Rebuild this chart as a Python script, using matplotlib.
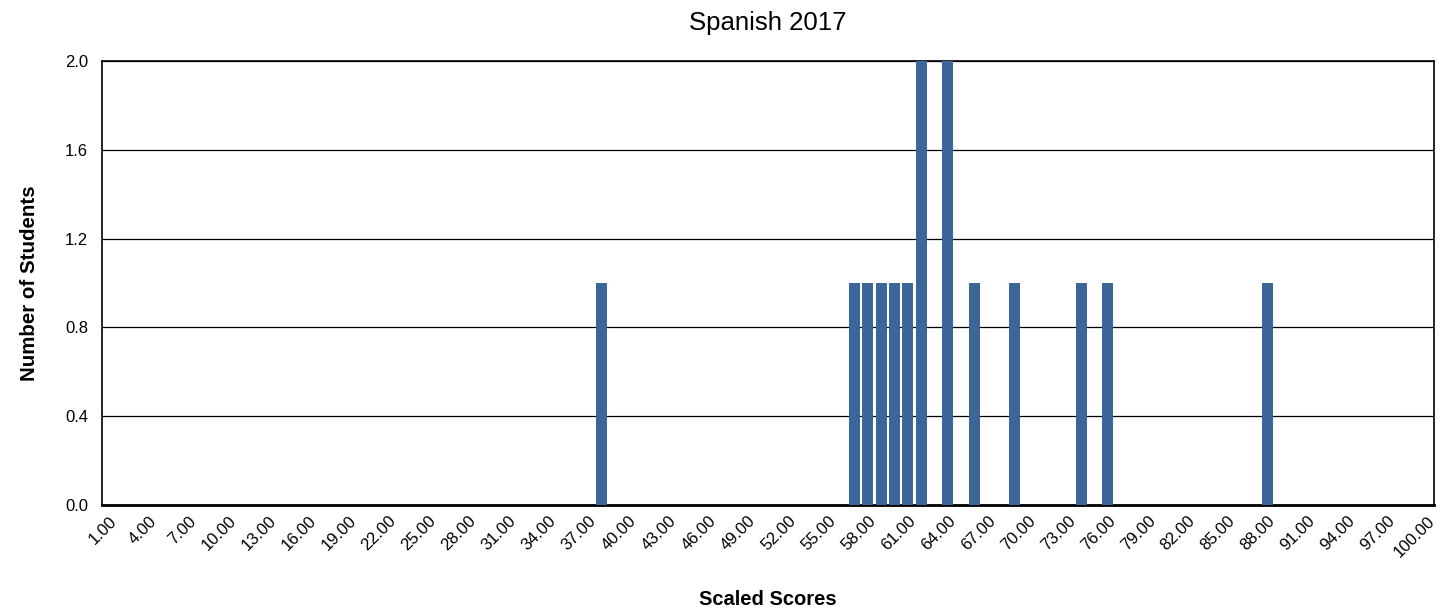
import matplotlib
matplotlib.use("Agg")
import matplotlib.pyplot as plt
import numpy as np

plt.rcParams['font.family'] = ['Liberation Sans', 'DejaVu Sans']

# scaled score categories 1..100 and student counts
scores = list(range(1, 101))
bar_scores = [38, 57, 58, 59, 60, 61, 62, 64, 66, 69, 74, 76, 88]
bar_counts = [1, 1, 1, 1, 1, 1, 2, 2, 1, 1, 1, 1, 1]

counts = [0] * len(scores)
for s, c in zip(bar_scores, bar_counts):
    counts[scores.index(s)] = c

tick_labels = ['%.2f' % s for s in scores]
yticks = [0.0, 0.4, 0.8, 1.2, 1.6, 2.0]

fig = plt.figure(figsize=(14.55, 6.11), dpi=100)
ax = fig.add_axes([0.0701, 0.1735, 0.9155, 0.7267])

x = np.arange(len(scores))
ax.bar(x, counts, width=0.83, color='#3A6699', zorder=3)

ax.set_xlim(-0.5, len(scores) - 0.5)
ax.set_ylim(0, 2.0)
ax.set_yticks(yticks)
ax.set_yticklabels(['%.1f' % v for v in yticks], fontsize=12)
shown = x[::3]
ax.set_xticks(shown)
ax.set_xticklabels([tick_labels[i] for i in shown], rotation=45, ha='right',
                   rotation_mode='anchor', fontsize=12)
ax.tick_params(axis='y', length=0, pad=10)
ax.tick_params(axis='x', length=0, pad=6)

ax.grid(axis='y', color='black', linewidth=0.9, zorder=0)
for sp in ax.spines.values():
    sp.set_color('black')
    sp.set_linewidth(1.2)
ax.spines['bottom'].set_linewidth(2)

ax.set_title('Spanish 2017', fontsize=18.5, pad=22)
ax.set_xlabel('Scaled Scores', fontsize=14.5, fontweight='bold', labelpad=22)
ax.set_ylabel('Number of Students', fontsize=14.8, fontweight='bold', labelpad=19)

fig.savefig('out.png', dpi=100)
